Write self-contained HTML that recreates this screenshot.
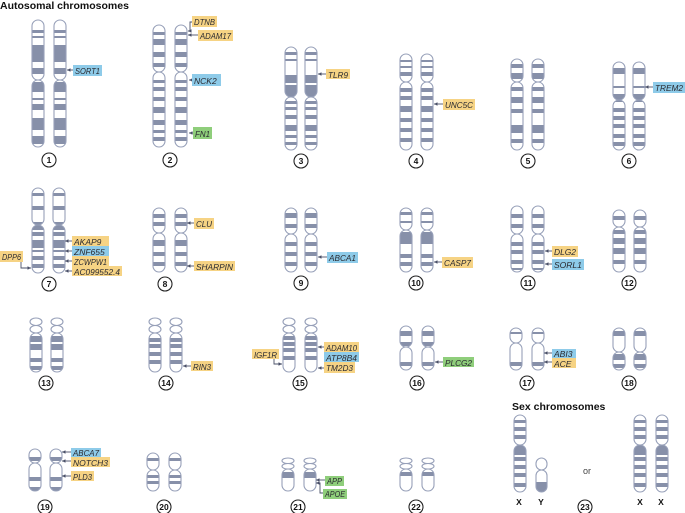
<!DOCTYPE html>
<html><head><meta charset="utf-8"><style>
html,body{margin:0;padding:0;background:#fff;width:685px;height:513px;overflow:hidden}
svg{display:block}
.lb{font-family:"Liberation Sans",sans-serif;font-style:italic;font-size:8.5px;fill:#2a2a30}
.nm{font-family:"Liberation Sans",sans-serif;font-weight:bold;font-size:8.5px;fill:#111}
.tt{font-family:"Liberation Sans",sans-serif;font-weight:bold;font-size:10.5px;fill:#111}
</style></head><body>
<svg id="s" width="685" height="513" viewBox="0 0 685 513" xmlns="http://www.w3.org/2000/svg">
<defs><marker id="ah" markerWidth="5" markerHeight="5" refX="4" refY="2.5" orient="auto"><path d="M0,0.5 L4,2.5 L0,4.5 z" fill="#4a5068"/></marker></defs>
<g id="chr"></g>
<g id="arr" stroke="#4a5068" stroke-width="0.9" fill="none"></g>
<text x="0" y="9" class="tt">Autosomal chromosomes</text>
<text x="512" y="410" class="tt">Sex chromosomes</text>
<text x="583" y="474" style="font-family:'Liberation Sans',sans-serif;font-size:9px;fill:#444">or</text>
<g id="labs">
<rect x="73" y="65" width="29" height="11" fill="#8ecbe9"/><text x="75" y="74" class="lb">SORT1</text>
<rect x="192" y="16" width="25" height="11" fill="#f6d384"/><text x="194" y="25" class="lb">DTNB</text>
<rect x="198" y="30" width="35" height="11" fill="#f6d384"/><text x="200" y="39" class="lb">ADAM17</text>
<rect x="192" y="74" width="29" height="12" fill="#8ecbe9"/><text x="194" y="84" class="lb">NCK2</text>
<rect x="193" y="127" width="19" height="12" fill="#8fce7b"/><text x="195" y="137" class="lb">FN1</text>
<rect x="326" y="69" width="24" height="10" fill="#f6d384"/><text x="328" y="78" class="lb">TLR9</text>
<rect x="443" y="99" width="32" height="11" fill="#f6d384"/><text x="445" y="108" class="lb">UNC5C</text>
<rect x="653" y="82" width="32" height="11" fill="#8ecbe9"/><text x="655" y="91" class="lb">TREM2</text>
<rect x="72" y="236" width="37" height="10" fill="#f6d384"/><text x="74" y="245" class="lb">AKAP9</text>
<rect x="72" y="246" width="37" height="10" fill="#8ecbe9"/><text x="74" y="255" class="lb">ZNF655</text>
<rect x="72" y="256" width="37" height="10" fill="#f6d384"/><text x="74" y="265" class="lb">ZCWPW1</text>
<rect x="72" y="266" width="50" height="10" fill="#f6d384"/><text x="74" y="275" class="lb">AC099552.4</text>
<rect x="0" y="251" width="23" height="11" fill="#f6d384"/><text x="2" y="260" class="lb">DPP6</text>
<rect x="194" y="218" width="20" height="11" fill="#f6d384"/><text x="196" y="227" class="lb">CLU</text>
<rect x="194" y="261" width="41" height="10" fill="#f6d384"/><text x="196" y="270" class="lb">SHARPIN</text>
<rect x="327" y="252" width="31" height="11" fill="#8ecbe9"/><text x="329" y="261" class="lb">ABCA1</text>
<rect x="442" y="257" width="31" height="11" fill="#f6d384"/><text x="444" y="266" class="lb">CASP7</text>
<rect x="552" y="246" width="26" height="11" fill="#f6d384"/><text x="554" y="255" class="lb">DLG2</text>
<rect x="552" y="259" width="32" height="11" fill="#8ecbe9"/><text x="554" y="268" class="lb">SORL1</text>
<rect x="191" y="361" width="22" height="10" fill="#f6d384"/><text x="193" y="370" class="lb">RIN3</text>
<rect x="252" y="349" width="27" height="10" fill="#f6d384"/><text x="254" y="358" class="lb">IGF1R</text>
<rect x="324" y="342" width="35" height="10" fill="#f6d384"/><text x="326" y="351" class="lb">ADAM10</text>
<rect x="324" y="352" width="35" height="10" fill="#8ecbe9"/><text x="326" y="361" class="lb">ATP8B4</text>
<rect x="324" y="362" width="31" height="11" fill="#f6d384"/><text x="326" y="371" class="lb">TM2D3</text>
<rect x="443" y="357" width="31" height="10" fill="#8fce7b"/><text x="445" y="366" class="lb">PLCG2</text>
<rect x="552" y="349" width="24" height="9" fill="#8ecbe9"/><text x="554" y="357" class="lb">ABI3</text>
<rect x="552" y="358" width="24" height="10" fill="#f6d384"/><text x="554" y="367" class="lb">ACE</text>
<rect x="71" y="448" width="30" height="9" fill="#8ecbe9"/><text x="73" y="456" class="lb">ABCA7</text>
<rect x="71" y="457" width="39" height="10" fill="#f6d384"/><text x="73" y="466" class="lb">NOTCH3</text>
<rect x="71" y="471" width="23" height="10" fill="#f6d384"/><text x="73" y="480" class="lb">PLD3</text>
<rect x="325" y="476" width="19" height="10" fill="#8fce7b"/><text x="327" y="484" class="lb">APP</text>
<rect x="323" y="489" width="24" height="10" fill="#8fce7b"/><text x="325" y="497" class="lb">APOE</text>
</g>
<g id="circ" fill="#fff" stroke="#222" stroke-width="1.1"></g>
<g>
<text x="49" y="163" class="nm" text-anchor="middle">1</text>
<text x="170" y="163" class="nm" text-anchor="middle">2</text>
<text x="301" y="164" class="nm" text-anchor="middle">3</text>
<text x="416" y="164" class="nm" text-anchor="middle">4</text>
<text x="528" y="164" class="nm" text-anchor="middle">5</text>
<text x="629" y="164" class="nm" text-anchor="middle">6</text>
<text x="49" y="287" class="nm" text-anchor="middle">7</text>
<text x="165" y="287" class="nm" text-anchor="middle">8</text>
<text x="301" y="286" class="nm" text-anchor="middle">9</text>
<text x="416" y="286" class="nm" text-anchor="middle">10</text>
<text x="528" y="286" class="nm" text-anchor="middle">11</text>
<text x="629" y="286" class="nm" text-anchor="middle">12</text>
<text x="46" y="386" class="nm" text-anchor="middle">13</text>
<text x="166" y="386" class="nm" text-anchor="middle">14</text>
<text x="300" y="386" class="nm" text-anchor="middle">15</text>
<text x="417" y="386" class="nm" text-anchor="middle">16</text>
<text x="527" y="386" class="nm" text-anchor="middle">17</text>
<text x="629" y="386" class="nm" text-anchor="middle">18</text>
<text x="45" y="510" class="nm" text-anchor="middle">19</text>
<text x="164" y="510" class="nm" text-anchor="middle">20</text>
<text x="298" y="510" class="nm" text-anchor="middle">21</text>
<text x="416" y="510" class="nm" text-anchor="middle">22</text>
<text x="585" y="510" class="nm" text-anchor="middle">23</text>
<text x="519" y="505" class="nm" text-anchor="middle">X</text>
<text x="541" y="505" class="nm" text-anchor="middle">Y</text>
<text x="640" y="505" class="nm" text-anchor="middle">X</text>
<text x="661" y="505" class="nm" text-anchor="middle">X</text>
</g>
</svg>
<script>
var NS="http://www.w3.org/2000/svg",G=document.getElementById('chr'),uid=0;
function el(t,a,p){var e=document.createElementNS(NS,t);for(var k in a)e.setAttribute(k,a[k]);(p||G).appendChild(e);return e;}
var ST="#97a0b9",BF="#8790a9";
function cd(x,top,cen,bot,bands,sat,w){
 w=w||12;var r=w/2,id='c'+(uid++);
 var cp=el('clipPath',{id:id});
 var parts=[];
 if(sat){var sh=(cen-top)/2;el('ellipse',{cx:x+r,cy:top+sh/2,rx:r,ry:sh/2,fill:'#fff',stroke:ST,'stroke-width':1.1});el('ellipse',{cx:x+r,cy:top+sh*1.5,rx:r,ry:sh/2,fill:'#fff',stroke:ST,'stroke-width':1.1});parts=[[cen,bot]];}
 else parts=[[top,cen],[cen,bot]];
 parts.forEach(function(p){el('rect',{x:x,y:p[0],width:w,height:p[1]-p[0],rx:r,ry:Math.min(r,(p[1]-p[0])/2)},cp);el('rect',{x:x,y:p[0],width:w,height:p[1]-p[0],rx:r,ry:Math.min(r,(p[1]-p[0])/2),fill:'#fff'});});
 var g=el('g',{'clip-path':'url(#'+id+')'});
 bands.forEach(function(b){el('rect',{x:x,y:top+b[0],width:w,height:b[1]-b[0],fill:BF},g);});
 parts.forEach(function(p){el('rect',{x:x,y:p[0],width:w,height:p[1]-p[0],rx:r,ry:Math.min(r,(p[1]-p[0])/2),fill:'none',stroke:ST,'stroke-width':1.1});});
}
function pair(xl,xr,top,cen,bot,b,sat,w){cd(xl,top,top+cen,bot,b,sat,w);cd(xr,top,top+cen,bot,b,sat,w);}
pair(32,54,20,60,147,[[10,13],[16,18],[25,42],[48,54],[62,72],[78,80],[84,90],[98,110],[116,124]]);
pair(153,175,25,47,147,[[7,10],[14,20],[27,32],[38,42],[55,58],[62,66],[72,76],[82,88],[95,100],[105,108],[112,116]]);
pair(285,305,47,50,150,[[5,8],[12,14],[28,36],[38,50],[54,57],[60,63],[68,72],[78,84],[88,91],[95,98]]);
pair(400,421,54,28,150,[[6,8],[12,14],[18,22],[34,38],[42,46],[52,58],[64,68],[74,78],[84,88]]);
pair(511,532,59,23,150,[[5,9],[14,20],[28,32],[38,44],[50,54],[66,74],[80,84]]);
pair(613,633,62,38,150,[[6,12],[24,26],[32,40],[46,50],[54,58],[62,66],[72,76],[80,84]]);
pair(32,53,188,37,273,[[5,8],[18,22],[34,42],[44,48],[52,60],[62,64],[68,72],[76,80]]);
pair(153,175,208,25,272,[[6,10],[14,18],[32,38],[44,48],[54,58]]);
pair(285,305,208,26,272,[[5,10],[16,20],[34,38],[44,48],[54,58]]);
pair(400,421,208,22,272,[[4,7],[13,15],[24,36],[46,50],[54,58]]);
pair(511,532,206,28,272,[[8,12],[18,22],[36,40],[44,48],[54,58],[62,64]]);
pair(613,634,210,17,272,[[6,10],[20,24],[28,34],[38,44],[50,54]]);
pair(30,51,318,15,372,[[18,24],[26,32],[40,44],[48,52]],1);
pair(149,170,318,15,372,[[20,24],[26,30],[34,38],[42,46]],1);
pair(283,305,318,15,372,[[18,22],[24,28],[30,34],[38,42]],1);
pair(400,422,326,21,370,[[5,10],[16,20],[36,40]]);
pair(510,532,328,15,370,[[4,6],[34,38]]);
pair(613,634,328,24,370,[[3,8],[26,32],[36,40]]);
pair(29,50,449,14,491,[[8,12],[28,32],[38,42]]);
pair(147,169,453,17,491,[[5,8],[22,25],[28,31]]);
pair(282,304,458,11,491,[[14,20]],1);
pair(400,422,458,11,491,[[14,18]],1);
cd(514,415,445,492,[[5,8],[12,16],[20,24],[30,40],[42,46],[50,54],[58,62],[68,72]]);
cd(536,458,470,492,[[24,34]],0,11);
pair(634,656,415,30,492,[[5,8],[12,16],[20,24],[30,40],[42,46],[50,54],[58,62],[68,72]]);
var A=document.getElementById('arr');
function ar(d){el('path',{d:d,'marker-end':'url(#ah)'},A);}
function h(x1,y,x2){ar('M'+x1+','+y+' L'+x2+','+y);}
h(73,70,67);ar('M192,22 L190,22 L190,31 L188,31');h(198,35,188);h(192,80,189);h(193,133,189);
h(326,74,318);h(443,104,434);h(653,87,645);
h(72,241,65);h(72,251,65);h(72,261,65);h(72,271,65);ar('M21,262 L21,268 L31,268');
h(194,223,187);h(194,266,187);h(327,257,318);h(442,262,434);h(552,251,545);h(552,264,545);
h(191,366,183);ar('M274,359 L274,364 L282,364');h(324,347,318);h(324,368,318);
h(443,362,435);h(552,353,544);h(552,362,544);
h(71,452,62);h(71,461,62);h(71,476,62);h(325,480,316);ar('M323,493 L320,493 L320,483 L316,483');
var C=document.getElementById('circ');
[[49,160],[170,160],[301,161],[416,161],[528,161],[629,161],[49,284],[165,284],[301,283],[416,283],[528,283],[629,283],[46,383],[166,383],[300,383],[417,383],[527,383],[629,383],[45,507],[164,507],[298,507],[416,507],[585,507]].forEach(function(c){el('circle',{cx:c[0],cy:c[1],r:7},C);});
var L=document.getElementById('labs'),rs=L.getElementsByTagName('rect'),ts=L.getElementsByTagName('text');
for(var i=0;i<rs.length;i++){var w=+rs[i].getAttribute('width')-4;var t=ts[i];if(t.getComputedTextLength()>w){t.setAttribute('textLength',w);t.setAttribute('lengthAdjust','spacingAndGlyphs');}}
</script>
</body></html>
